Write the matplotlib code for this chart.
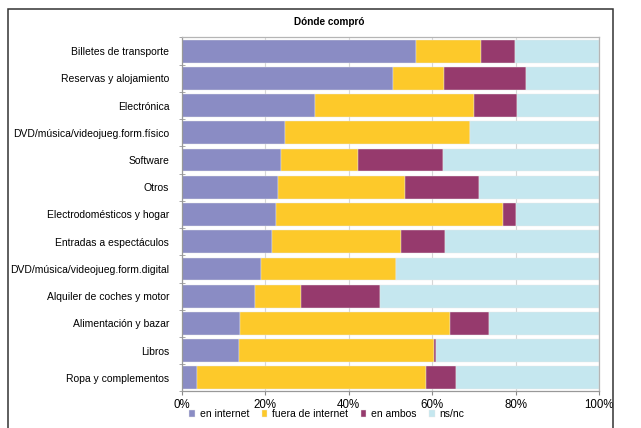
import numpy as np
import matplotlib
matplotlib.use("Agg")
import matplotlib.pyplot as plt
import matplotlib.patches as patches

plt.rcParams['font.family'] = ['Liberation Sans', 'DejaVu Sans']

# categorías (de arriba a abajo) y porcentajes por canal de compra
categorias = [
    "Billetes de transporte",
    "Reservas y alojamiento",
    "Electrónica",
    "DVD/música/videojueg.form.físico",
    "Software",
    "Otros",
    "Electrodomésticos y hogar",
    "Entradas a espectáculos",
    "DVD/música/videojueg.form.digital",
    "Alquiler de coches y motor",
    "Alimentación y bazar",
    "Libros",
    "Ropa y complementos",
]
en_internet = [56.0, 50.5, 31.8, 24.8, 23.8, 23.0, 22.6, 21.7, 19.1, 17.6, 14.0, 13.6, 3.7]
fuera_internet = [15.7, 12.4, 38.2, 44.2, 18.4, 30.5, 54.4, 30.8, 32.1, 11.0, 50.3, 46.8, 54.8]
en_ambos = [8.2, 19.5, 10.4, 0.0, 20.3, 17.6, 3.1, 10.6, 0.0, 18.8, 9.3, 0.6, 7.1]
ns_nc = [20.1, 17.6, 19.6, 31.0, 37.5, 28.9, 19.9, 36.9, 48.8, 52.6, 26.4, 39.0, 34.4]

series = [
    ("en internet", en_internet, "#8a8cc4"),
    ("fuera de internet", fuera_internet, "#fdc92a"),
    ("en ambos", en_ambos, "#963a6d"),
    ("ns/nc", ns_nc, "#c5e7ef"),
]

fig = plt.figure(figsize=(6.41, 4.28), dpi=100)
ax = fig.add_axes([0.2835, 0.0853, 0.6515, 0.8271])

y = np.arange(len(categorias))
left = np.zeros(len(categorias))
for nombre, valores, color in series:
    ax.barh(y, valores, left=left, height=0.84, color=color, label=nombre,
            edgecolor="#e8e8e8", linewidth=0.3, zorder=2)
    left += np.array(valores)

ax.set_xlim(0, 100)
ax.set_ylim(len(categorias) - 0.5, -0.5)
ax.set_yticks(y)
ax.set_yticklabels(categorias, fontsize=7.5)
ax.set_yticks(np.arange(len(categorias) + 1) - 0.5, minor=True)
ax.tick_params(axis="y", which="major", length=0, pad=9)
ax.tick_params(axis="y", which="minor", length=4, direction="inout", color="#999999")

ax.set_xticks(np.arange(0, 101, 20))
ax.set_xticklabels([f"{v}%" for v in range(0, 101, 20)], fontsize=8.3)
ax.tick_params(axis="x", length=3, direction="out", color="#888888", pad=2.5)

ax.xaxis.grid(True, color="#d6d6d6", linewidth=0.8, zorder=0)
ax.set_axisbelow(True)

for lado in ["top", "right"]:
    ax.spines[lado].set_color("#b5b5b5")
ax.spines["left"].set_color("#999999")
ax.spines["bottom"].set_color("#999999")
for s in ax.spines.values():
    s.set_linewidth(0.9)

fig.text(0.513, 0.948, "Dónde compró", ha="center", va="center",
         fontsize=7.2, fontweight="bold")

fig.legend(loc="center", bbox_to_anchor=(0.51, 0.032), ncol=4, frameon=False,
           fontsize=7.5, handlelength=0.55, handleheight=0.55, handletextpad=0.45,
           columnspacing=1.2)

# marco exterior del gráfico
marco = patches.Rectangle((8 / 641, -0.1), (613 - 8) / 641, 1.1 - 9 / 428,
                          transform=fig.transFigure, fill=False,
                          edgecolor="#333333", linewidth=1.1, clip_on=False)
fig.patches.append(marco)

fig.savefig("out.png", dpi=100)
